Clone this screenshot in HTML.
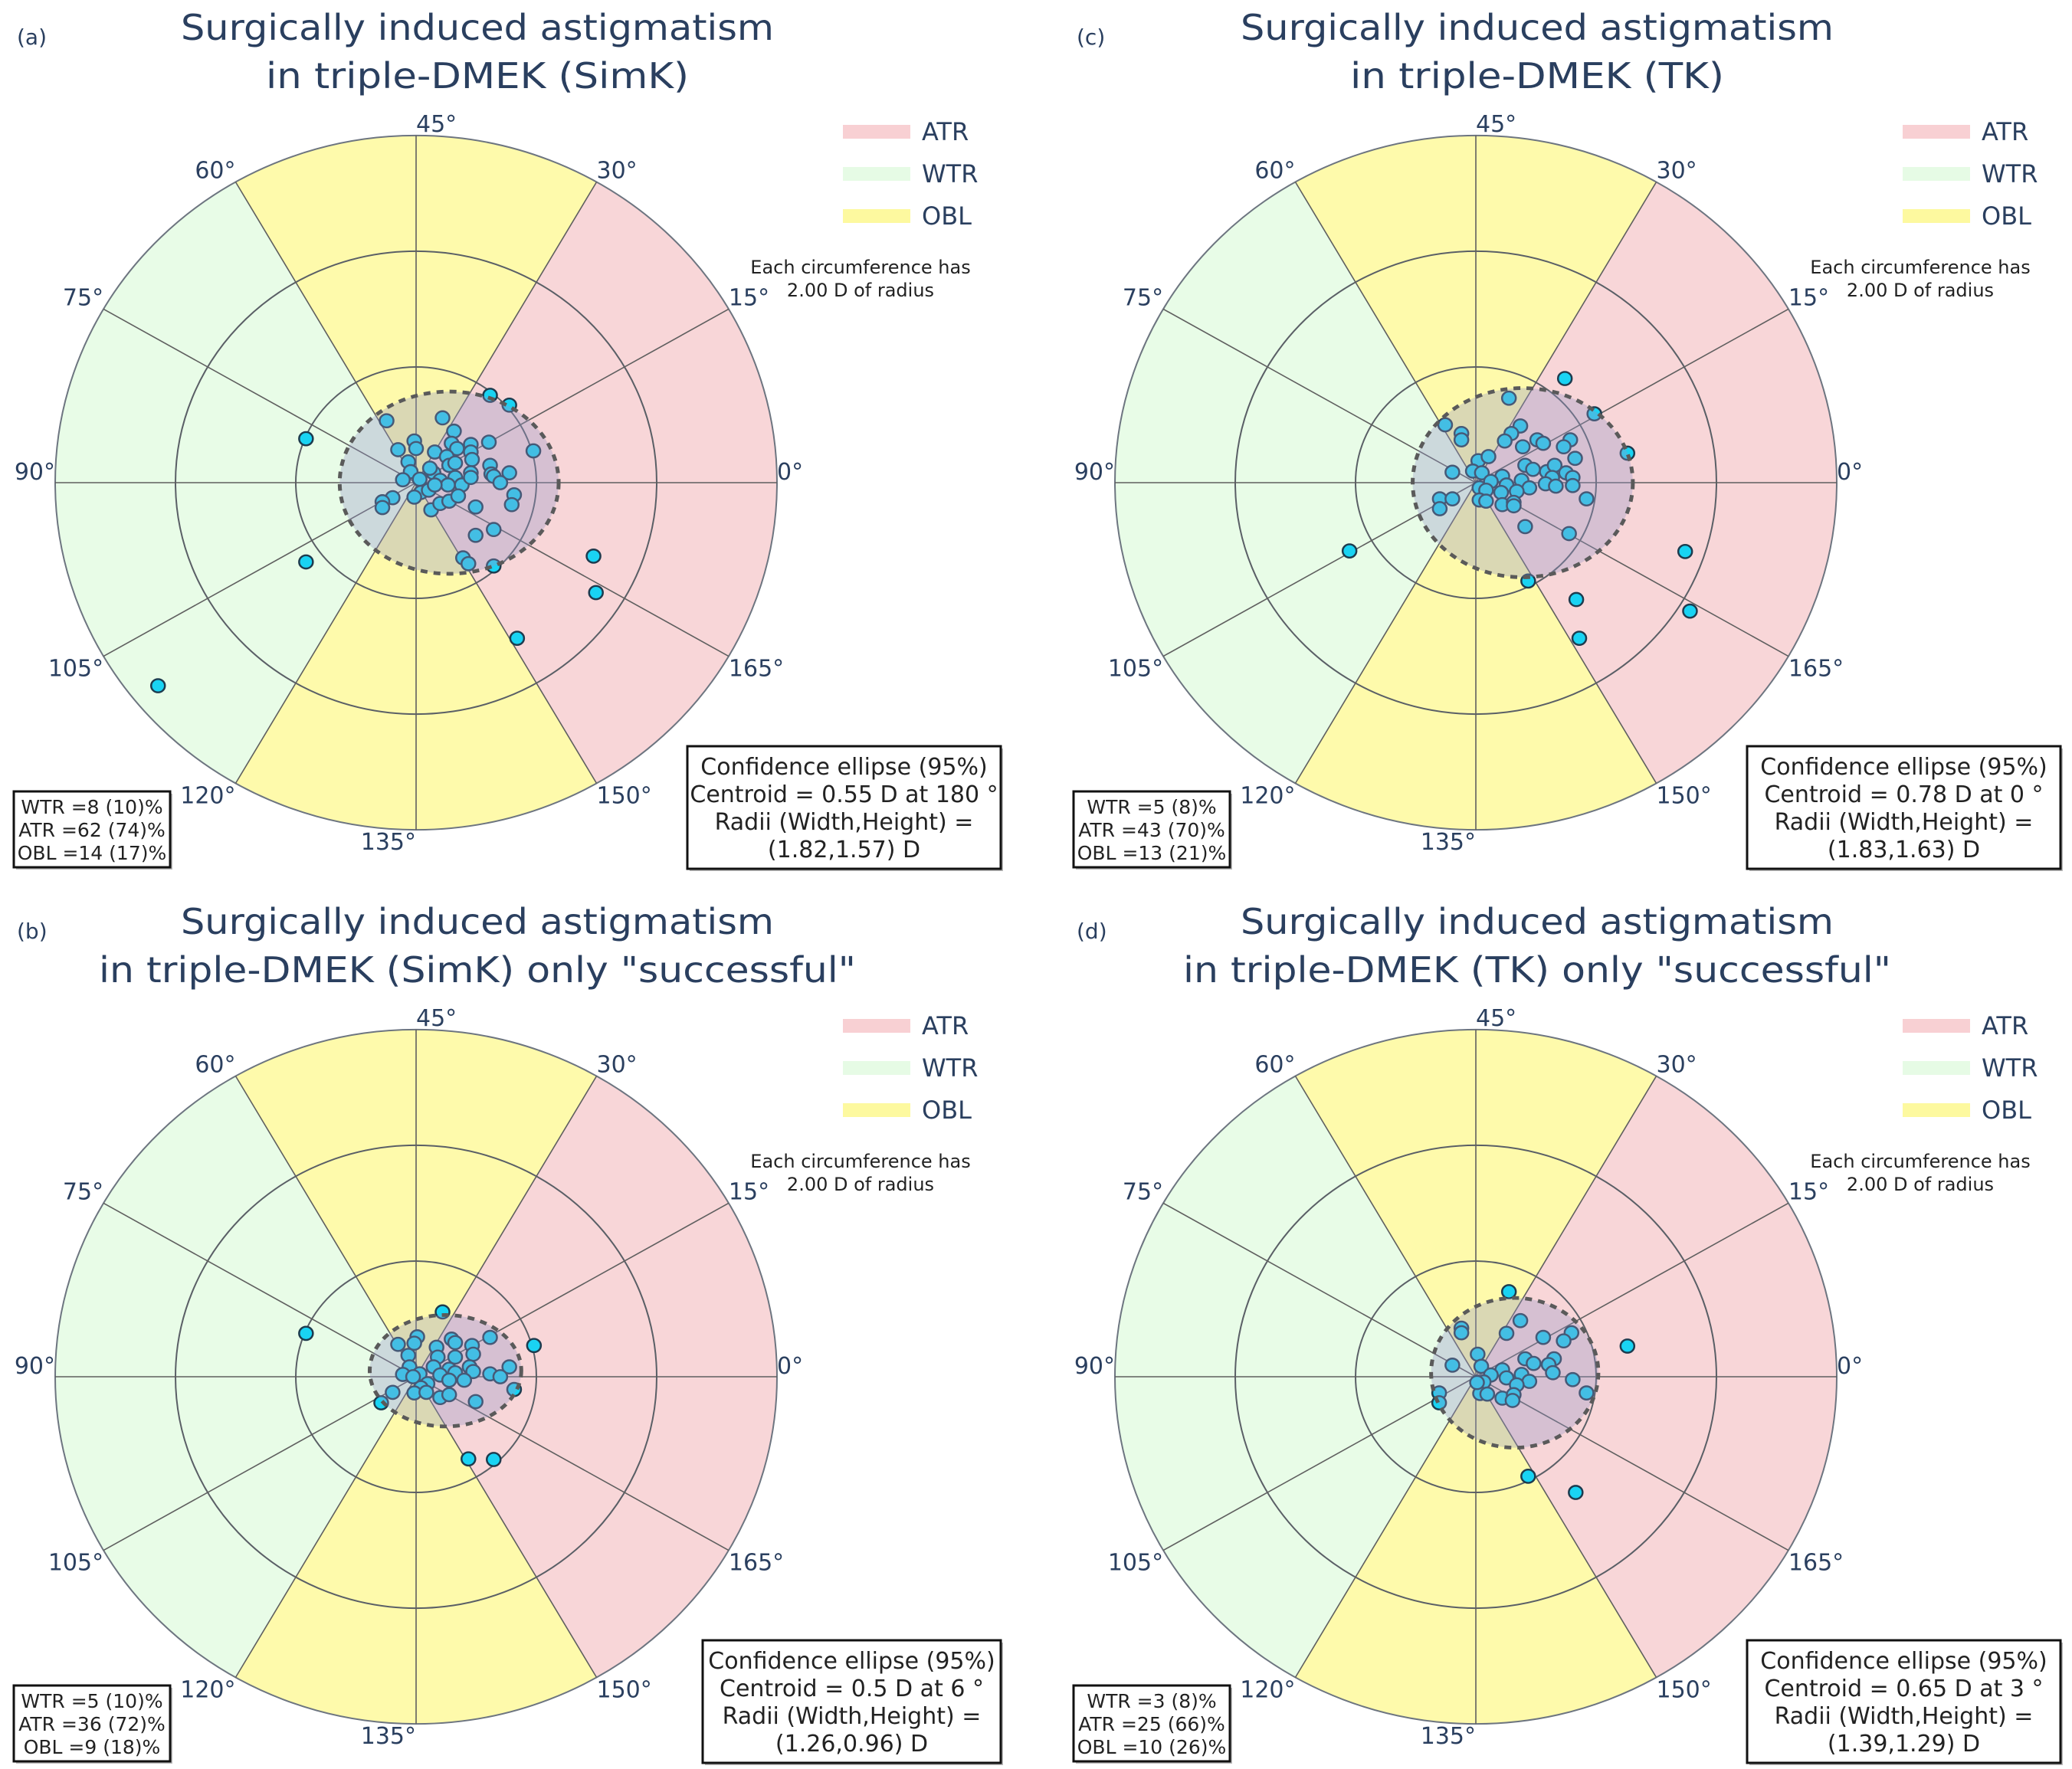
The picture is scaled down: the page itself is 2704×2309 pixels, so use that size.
<!DOCTYPE html>
<html><head><meta charset="utf-8">
<style>
html,body{margin:0;padding:0;background:#fff;}
svg{display:block;font-family:"DejaVu Sans","Liberation Sans",sans-serif;}
</style></head>
<body>
<svg id="fig" width="2704" height="2309" viewBox="0 0 2704 2309" xmlns="http://www.w3.org/2000/svg"></svg>
<script>
// ---- data (diopters, x = horizontal component, y = vertical component in doubled-angle space) ----
const aX = [-1.83,-1.83,1.23,1.55,1.29,2.95,2.99,-0.49,-4.29,1.68,0.44,0.63,-0.03,0.00,-0.30,0.59,0.68,0.91,1.21,1.95,-0.13,0.31,0.51,0.91,0.93,1.23,-0.09,-0.22,0.06,0.29,0.40,0.55,0.65,0.91,1.25,1.55,1.29,1.40,0.65,0.53,0.76,0.91,0.08,0.21,-0.03,-0.39,-0.56,-0.56,0.25,0.40,0.55,0.70,1.63,1.59,0.99,1.29,0.99,0.78,0.87,0.31,0.23];
const aY = [0.76,-1.37,1.51,1.34,-1.44,-1.27,-1.90,1.07,-3.51,-2.69,1.12,0.89,0.72,0.59,0.57,0.68,0.59,0.66,0.70,0.55,0.36,0.53,0.45,0.53,0.40,0.30,0.19,0.05,0.06,0.17,0.04,0.30,0.34,0.17,0.15,0.17,0.11,0.00,0.09,-0.04,-0.04,0.09,-0.17,-0.13,-0.25,-0.26,-0.33,-0.43,-0.47,-0.36,-0.32,-0.23,-0.21,-0.38,-0.42,-0.81,-0.91,-1.30,-1.40,-0.04,0.25];
const bX = [-1.83,0.44,1.23,1.96,-0.58,0.87,1.29,-0.30,0.02,-0.03,0.34,0.59,0.65,0.93,0.95,-0.13,0.36,0.65,-0.11,0.29,0.55,0.89,0.95,1.55,1.23,1.40,-0.22,0.06,0.40,0.65,0.55,0.80,0.19,0.08,-0.03,0.17,0.40,0.55,-0.39,0.99,1.63,-0.05];
const bY = [0.75,1.12,0.68,0.54,-0.45,-1.42,-1.43,0.56,0.69,0.58,0.51,0.65,0.59,0.54,0.39,0.37,0.34,0.34,0.17,0.17,0.13,0.17,0.09,0.17,0.05,0.00,0.04,0.05,0.03,0.07,-0.06,-0.06,-0.12,-0.19,-0.28,-0.27,-0.36,-0.31,-0.27,-0.43,-0.22,0.00];
const cX = [1.48,0.55,1.97,2.52,-0.51,-0.24,-0.24,0.74,0.59,0.48,0.78,1.02,1.12,1.57,1.46,1.65,0.04,0.21,-0.39,-0.05,0.10,0.44,0.25,0.82,0.95,1.18,1.31,1.50,1.27,1.61,0.76,0.51,0.06,0.17,1.16,1.33,1.61,0.89,0.68,0.42,-0.60,-0.39,-0.60,0.06,0.17,0.44,0.63,0.63,1.84,0.82,1.55,0.87,3.48,3.56,1.67,1.72,-2.10];
const cY = [1.80,1.46,1.19,0.51,1.00,0.85,0.74,0.98,0.85,0.72,0.62,0.74,0.68,0.74,0.62,0.42,0.38,0.45,0.18,0.20,0.17,0.11,0.02,0.30,0.23,0.19,0.30,0.17,0.09,0.09,0.04,-0.04,-0.09,-0.13,-0.02,-0.06,-0.05,-0.09,-0.15,-0.17,-0.28,-0.28,-0.45,-0.30,-0.32,-0.38,-0.34,-0.40,-0.28,-0.76,-0.88,-1.70,-1.19,-2.22,-2.02,-2.69,-1.18];
const dX = [0.55,2.52,0.87,1.66,-0.61,-0.61,-0.24,-0.24,0.74,0.51,1.12,1.59,1.46,0.03,-0.39,0.09,0.82,0.96,1.30,1.21,1.28,0.44,0.51,0.25,0.76,0.89,1.61,1.84,0.13,0.68,0.07,0.19,0.44,0.63,0.61,0.02];
const dY = [1.47,0.53,-1.72,-2.00,-0.28,-0.45,0.84,0.76,0.97,0.75,0.68,0.76,0.62,0.39,0.20,0.18,0.31,0.23,0.31,0.21,0.07,0.12,-0.02,0.03,0.04,-0.08,-0.05,-0.28,-0.09,-0.14,-0.29,-0.30,-0.37,-0.31,-0.41,-0.10];
const centroidMag = [0.55, 0.5, 0.78, 0.65];
const centroidAxis = [180, 6, 0, 3];
const radiiW = [1.82, 1.26, 1.83, 1.39];
const radiiH = [1.57, 0.96, 1.63, 1.29];
const statWTR = ["WTR =8 (10)%","WTR =5 (10)%","WTR =5 (8)%","WTR =3 (8)%"];
const statATR = ["ATR =62 (74)%","ATR =36 (72)%","ATR =43 (70)%","ATR =25 (66)%"];
const statOBL = ["OBL =14 (17)%","OBL =9 (18)%","OBL =13 (21)%","OBL =10 (26)%"];
const tickLabels = ["0°","15°","30°","45°","60°","75°","90°","105°","120°","135°","150°","165°"];
const ringValues = [2, 4, 6];

const NS = "http://www.w3.org/2000/svg";
const svg = document.getElementById('fig');
function mk(tag, attrs, parent){
  const e = document.createElementNS(NS, tag);
  for (const k in attrs) e.setAttribute(k, attrs[k]);
  (parent||svg).appendChild(e);
  return e;
}
const PXD = 78.5;
const SQY = 0.962;
const RMAX = 6;

const panels = [
  {key:'a', cx:543, cy:630, xs:aX, ys:aY, idx:0, letter:'(a)', t1:'Surgically induced astigmatism', t2:'in triple-DMEK (SimK)', t2w:552},
  {key:'b', cx:543, cy:1797, xs:bX, ys:bY, idx:1, letter:'(b)', t1:'Surgically induced astigmatism', t2:'in triple-DMEK (SimK) only "successful"', t2w:988},
  {key:'c', cx:1926, cy:630, xs:cX, ys:cY, idx:2, letter:'(c)', t1:'Surgically induced astigmatism', t2:'in triple-DMEK (TK)', t2w:488},
  {key:'d', cx:1926, cy:1797, xs:dX, ys:dY, idx:3, letter:'(d)', t1:'Surgically induced astigmatism', t2:'in triple-DMEK (TK) only "successful"', t2w:924}
];

function sectorPath(r, a0, a1){
  const p = d => [r*Math.cos(d*Math.PI/180), -r*Math.sin(d*Math.PI/180)];
  const s = p(a0), e = p(a1);
  return `M0,0 L${s[0]},${s[1]} A${r},${r} 0 0 0 ${e[0]},${e[1]} Z`;
}

panels.forEach(P => {
  const g = mk('g', {});
  
  
  const ox = P.cx - 543, oy = P.cy - 630;

  const t1 = mk('text', {x:ox+623, y:oy+52, 'text-anchor':'middle', 'font-size':46, fill:'#2a3f5f', textLength:774, lengthAdjust:'spacingAndGlyphs'}, g);
  t1.textContent = P.t1;
  
  
  const t2 = mk('text', {x:ox+623, y:oy+115, 'text-anchor':'middle', 'font-size':46, fill:'#2a3f5f', textLength:P.t2w, lengthAdjust:'spacingAndGlyphs'}, g);
  t2.textContent = P.t2;
  
  
  const lt = mk('text', {x:ox+22, y:oy+58, 'font-size':28, fill:'#2a3f5f'}, g);
  lt.textContent = P.letter;
  
  

  const R = RMAX*PXD;
  const pg = mk('g', {transform:`translate(${P.cx},${P.cy}) scale(1,${SQY})`}, g);
  
  
  const sectors = [
    ['atr-sector', -60, 60, '#f8d6d8'],
    ['obl-sector-top', 60, 120, '#fefaab'],
    ['wtr-sector', 120, 240, '#e8fce7'],
    ['obl-sector-bottom', 240, 300, '#fefaab']
  ];
  sectors.forEach(s => {
    const sp = mk('path', {d:sectorPath(R, s[1], s[2]), fill:s[3]}, pg);
    
    
  });
  ringValues.forEach(v => {
    const c = mk('circle', {cx:0, cy:0, r:v*PXD, fill:'none', stroke: v===RMAX ? '#6d7580' : '#5a5f66', 'stroke-width':2, 'vector-effect':'non-scaling-stroke'}, pg);
    
    
  });
  for (let i=0;i<12;i++){
    const th = i*30*Math.PI/180;
    const l = mk('line', {x1:0, y1:0, x2:R*Math.cos(th), y2:-R*Math.sin(th), stroke:'#5f5f5f', 'stroke-width':1.6, 'vector-effect':'non-scaling-stroke'}, pg);
    
    
  }
  for (let i=0;i<P.xs.length;i++){
    const pt = mk('circle', {cx:P.xs[i]*PXD, cy:-P.ys[i]*PXD, r:9, fill:'#19d3f3', stroke:'#1d3b4e', 'stroke-width':2.5}, pg);
    
    
  }
  const k = P.idx;
  const ang = 2*centroidAxis[k]*Math.PI/180;
  const ecx = centroidMag[k]*Math.cos(ang)*PXD, ecy = -centroidMag[k]*Math.sin(ang)*PXD;
  const el = mk('ellipse', {cx:ecx, cy:ecy, rx:radiiW[k]*PXD, ry:radiiH[k]*PXD/SQY*0.965, fill:'rgba(150,150,200,0.34)', stroke:'#5a5a5a', 'stroke-width':5, 'stroke-dasharray':'9 8'}, pg);
  
  

  const RX = R, RY = R*SQY;
  tickLabels.forEach((lab, i) => {
    const th = i*30*Math.PI/180;
    const ex = P.cx + RX*Math.cos(th), ey = P.cy - RY*Math.sin(th);
    const c = Math.cos(th), s = Math.sin(th);
    let anchor = c > 0.01 ? 'start' : (c < -0.01 ? 'end' : (s > 0 ? 'start' : 'end'));
    let y = s >= -0.01 ? ey - 5 : ey + 26;
    if (i === 0 || i === 6) y = ey - 4;
    const tx = mk('text', {x:ex, y:y, 'text-anchor':anchor, 'font-size':30, fill:'#2a3f5f'}, g);
    tx.textContent = lab;
    
    
  });

  const legend = [['ATR','#f8d0d3'],['WTR','#e6fbe5'],['OBL','#fdf99f']];
  legend.forEach((L, j) => {
    const ly = oy + 172 + j*55;
    const sw = mk('rect', {x:ox+1100, y:ly-9, width:88, height:18, fill:L[1]}, g);
    
    
    const lt2 = mk('text', {x:ox+1203, y:ly+11, 'font-size':32, fill:'#2a3f5f'}, g);
    lt2.textContent = L[0];
    
    
  });
  const n1 = mk('text', {x:ox+1123, y:oy+357, 'text-anchor':'middle', 'font-size':24, fill:'#222'}, g);
  n1.textContent = 'Each circumference has';
  
  
  const n2 = mk('text', {x:ox+1123, y:oy+387, 'text-anchor':'middle', 'font-size':24, fill:'#222'}, g);
  n2.textContent = '2.00 D of radius';
  
  

  const sb = mk('g', {}, g);
  
  
  mk('rect', {x:ox+21, y:oy+1036, width:204, height:99, fill:'#bbb'}, sb);
  mk('rect', {x:ox+18, y:oy+1033, width:204, height:99, fill:'#fff', stroke:'#111', 'stroke-width':3}, sb);
  [statWTR[k], statATR[k], statOBL[k]].forEach((s, j) => {
    const t = mk('text', {x:ox+120, y:oy+1062+j*30, 'text-anchor':'middle', 'font-size':25, fill:'#222'}, sb);
    t.textContent = s;
    
    
  });

  const bx = (P.key==='b') ? 917 : 897;
  const eb = mk('g', {}, g);
  
  
  const bw = 1306 - bx;
  mk('rect', {x:ox+bx+3, y:oy+977, width:bw, height:160, fill:'#bbb'}, eb);
  mk('rect', {x:ox+bx, y:oy+974, width:bw, height:160, fill:'#fff', stroke:'#111', 'stroke-width':3}, eb);
  const lines = ['Confidence ellipse (95%)',
    'Centroid = ' + centroidMag[k] + ' D at ' + centroidAxis[k] + ' °',
    'Radii (Width,Height) =',
    '(' + radiiW[k].toFixed(2) + ',' + radiiH[k].toFixed(2) + ') D'];
  lines.forEach((s, j) => {
    const t = mk('text', {x:ox+bx+bw/2, y:oy+1011+j*36, 'text-anchor':'middle', 'font-size':30, fill:'#222'}, eb);
    t.textContent = s;
    
    
  });
});
</script>
</body></html>
